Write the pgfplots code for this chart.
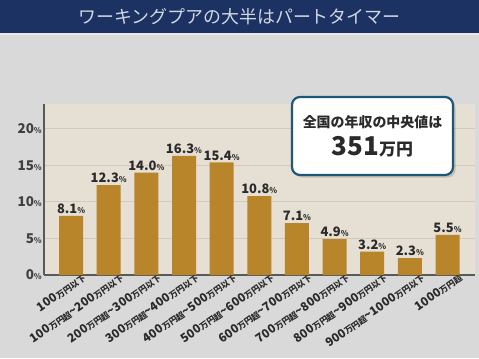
\documentclass[border=0pt]{standalone}
\usepackage{fontspec}
\setmainfont{Noto Sans CJK JP}
\usepackage{pgfplots}
\pgfplotsset{compat=1.18}
\definecolor{bgcol}{HTML}{D9D9D9}
\definecolor{navy}{HTML}{1B3263}
\definecolor{titlecol}{HTML}{D3D7E2}
\definecolor{plotbg}{HTML}{E6DFD3}
\definecolor{gridcol}{HTML}{D0C9BC}
\definecolor{barcol}{HTML}{B8852A}
\definecolor{boxcol}{HTML}{1E5878}
\definecolor{txt}{HTML}{2A2A2A}
\newcommand\s[1]{{\fontsize{8.5}{8.5}\selectfont #1}}
\newcommand\p{{\fontsize{8}{8}\selectfont\%}}
\begin{document}
\begin{tikzpicture}[x=1bp,y=1bp]
\fill[bgcol] (0,0) rectangle (479,358);
\fill[navy] (0,325) rectangle (479,358);
\fill[white,opacity=0.4] (0,323.5) rectangle (479,325);
\node[text=titlecol, font=\fontsize{18}{18}\selectfont] at (239.5,341) {ワーキングプアの大半はパートタイマー};
\begin{axis}[
  at={(44bp,83bp)}, anchor=south west,
  width=431bp, height=171bp, scale only axis,
  xmin=-0.72, xmax=10.73, ymin=0, ymax=23.4,
  ybar, bar width=24bp,
  axis background/.style={fill=plotbg},
  axis x line*=bottom, axis y line*=left,
  x axis line style={-, line width=2bp, color=black!65},
  y axis line style={-, line width=1.2bp, color=black!65},
  ytick={0,5,10,15,20},
  yticklabels={0\p,5\p,10\p,15\p,20\p},
  ymajorgrids, grid style={color=gridcol, line width=1bp},
  major tick length=0pt,
  yticklabel style={font=\bfseries\fontsize{13.5}{13.5}\selectfont, text=black!75, inner sep=2bp},
  xtick=data,
  xticklabels={
    {100\s{万円以下}},
    {100\s{万円超}\textasciitilde 200\s{万円以下}},
    {200\s{万円超}\textasciitilde 300\s{万円以下}},
    {300\s{万円超}\textasciitilde 400\s{万円以下}},
    {400\s{万円超}\textasciitilde 500\s{万円以下}},
    {500\s{万円超}\textasciitilde 600\s{万円以下}},
    {600\s{万円超}\textasciitilde 700\s{万円以下}},
    {700\s{万円超}\textasciitilde 800\s{万円以下}},
    {800\s{万円超}\textasciitilde 900\s{万円以下}},
    {900\s{万円超}\textasciitilde 1000\s{万円以下}},
    {1000\s{万円超}}},
  xticklabel style={font=\bfseries\fontsize{12}{12}\selectfont, text=txt, rotate=35, anchor=north east, inner sep=0pt, xshift=10bp, yshift=-4bp},
  nodes near coords={\pgfmathprintnumber[fixed,fixed zerofill,precision=1,assume math mode=true]{\pgfplotspointmeta}\p},
  every node near coord/.append style={font=\bfseries\fontsize{13}{13}\selectfont, text=txt, inner sep=2bp},
  point meta=y,
  clip=false,
]
\addplot[fill=barcol, draw=none] coordinates {
 (0,8.1) (1,12.3) (2,14.0) (3,16.3) (4,15.4) (5,10.8) (6,7.1) (7,4.9) (8,3.2) (9,2.3) (10,5.5)};
\end{axis}
\fill[black,opacity=0.15,rounded corners=8bp] (294.5,180.5) rectangle (455.5,258.5);
\draw[rounded corners=8bp, line width=2.2bp, draw=boxcol, fill=white] (292,183) rectangle (453,261);
\node[font=\bfseries\fontsize{14}{14}\selectfont, text=txt] at (372.5,236) {全国の年収の中央値は};
\node[anchor=base, text=txt, font=\bfseries] at (372.5,203) {{\fontsize{26}{26}\selectfont 351}{\fontsize{17}{17}\selectfont 万円}};
\pgfresetboundingbox
\useasboundingbox (0,0) rectangle (479,358);
\end{tikzpicture}
\end{document}
